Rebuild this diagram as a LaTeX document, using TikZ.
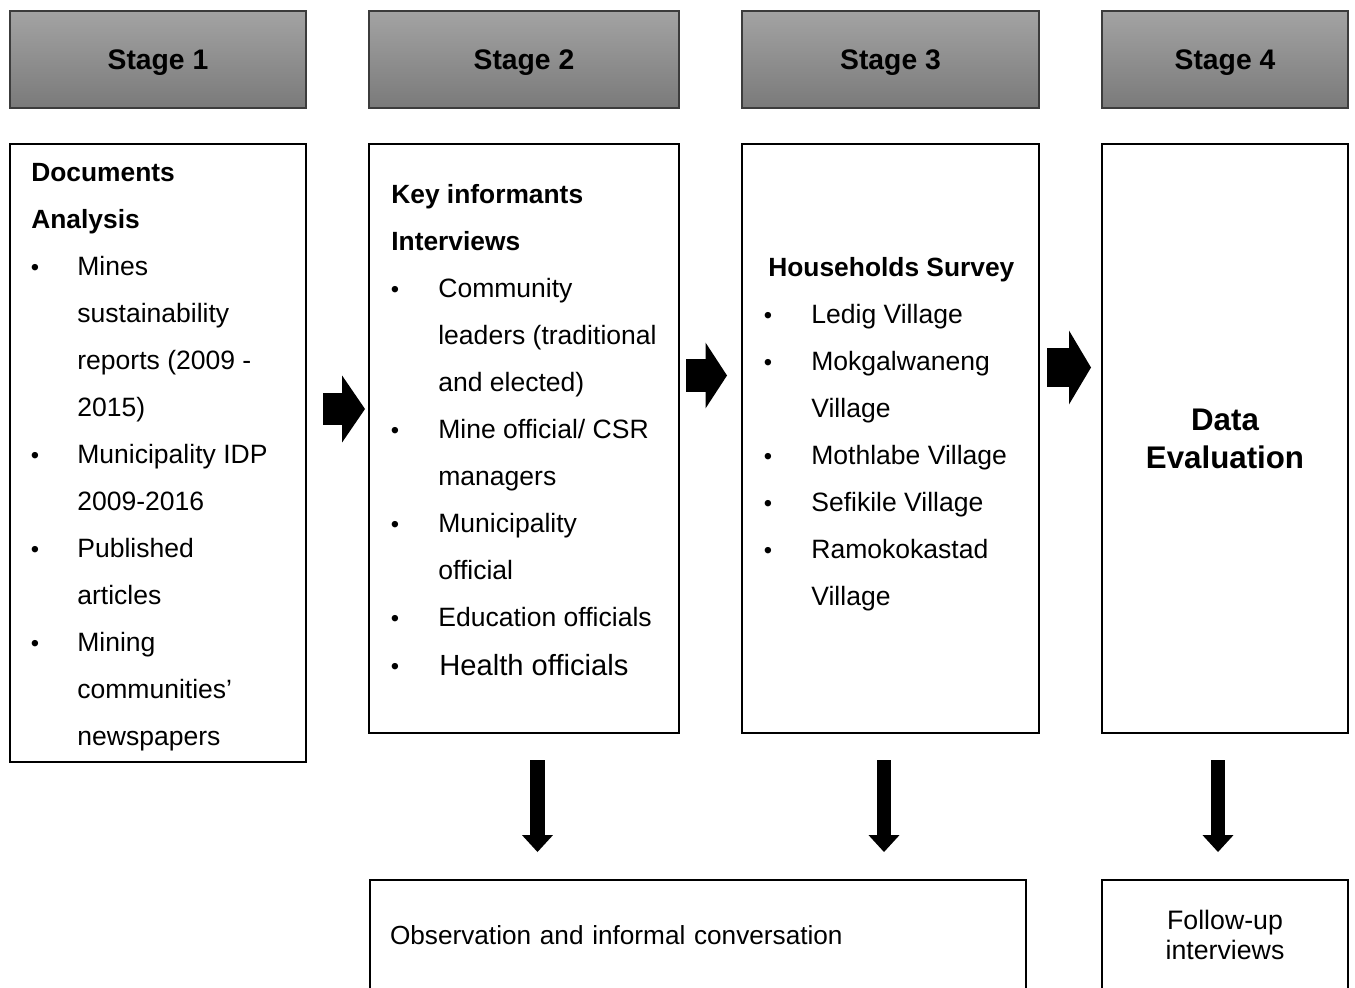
\documentclass[tikz,border=0pt]{standalone}
\usepackage{fontspec}
\setmainfont{Liberation Sans}
\usetikzlibrary{arrows.meta}
\definecolor{hdtop}{RGB}{163,163,163}
\definecolor{hdbot}{RGB}{122,122,122}
\definecolor{hdline}{RGB}{60,60,60}
\tikzset{
  stagehdr/.style={rectangle, draw=hdline, line width=1.1pt, top color=hdtop, bottom color=hdbot,
    minimum height=1.94cm, inner sep=0pt, text depth=0pt, font=\fontsize{16.1}{19}\selectfont\bfseries},
  contentbox/.style={rectangle, draw=black, line width=1.1pt, fill=white, inner sep=0pt},
  txt/.style={anchor=base west, inner sep=0pt, font=\fontsize{15.1}{18}\selectfont},
  hd/.style={anchor=base west, inner sep=0pt, font=\fontsize{15}{18}\selectfont\bfseries},
  bul/.style={anchor=center, inner sep=0pt, yshift=-1.7pt, font=\fontsize{13.5}{16}\selectfont},
  rarrow/.style={line width=#1, draw=black},
  downarrow/.style={line width=8.5pt, draw=black, -{Triangle[width=17.6pt,length=9.6pt,line width=0pt]}}
}
\begin{document}
\begin{tikzpicture}[x=0.02cm,y=-0.02cm]
\useasboundingbox (0,0) rectangle (1355,987);
\clip (0,0) rectangle (1355,987);
\fill[white] (0,0) rectangle (1355,987);

% Stage headers
\node[stagehdr, minimum width=5.92cm] (s1) at (158,59.5) {Stage 1};
\node[stagehdr, minimum width=6.2cm] (s2) at (524,59.5) {Stage 2};
\node[stagehdr, minimum width=5.94cm] (s3) at (890.5,59.5) {Stage 3};
\node[stagehdr, minimum width=4.92cm] (s4) at (1225,59.5) {Stage 4};

% Content boxes
\node[contentbox, minimum width=5.92cm, minimum height=12.36cm] (b1) at (158,453) {};
\node[contentbox, minimum width=6.2cm, minimum height=11.78cm] (b2) at (524,438.5) {};
\node[contentbox, minimum width=5.94cm, minimum height=11.78cm] (b3) at (890.5,438.5) {};
\node[contentbox, minimum width=4.92cm, minimum height=11.78cm, align=center,
  font=\fontsize{17.8}{21.5}\selectfont\bfseries] (b4) at (1225,438.5) {Data\\Evaluation};

% Box 1 text
\node[hd] (b1h1) at (31,181) {Documents};
\node[hd] (b1h2) at (31,228) {Analysis};
\node[bul] (b1u1) at (35,267) {•};
\node[txt] (b1t1) at (77,275) {Mines};
\node[txt] (b1t2) at (77,322) {sustainability};
\node[txt] (b1t3) at (77,369) {reports (2009 -};
\node[txt] (b1t4) at (77,416) {2015)};
\node[bul] (b1u2) at (35,455) {•};
\node[txt] (b1t5) at (77,463) {Municipality IDP};
\node[txt] (b1t6) at (77,510) {2009-2016};
\node[bul] (b1u3) at (35,549) {•};
\node[txt] (b1t7) at (77,557) {Published};
\node[txt] (b1t8) at (77,604) {articles};
\node[bul] (b1u4) at (35,643) {•};
\node[txt] (b1t9) at (77,651) {Mining};
\node[txt] (b1t10) at (77,698) {communities’};
\node[txt] (b1t11) at (77,745) {newspapers};

% Box 2 text
\node[hd] (b2h1) at (391,203) {Key informants};
\node[hd] (b2h2) at (391,250) {Interviews};
\node[bul] (b2u1) at (395,289) {•};
\node[txt] (b2t1) at (438,297) {Community};
\node[txt] (b2t2) at (438,344) {leaders (traditional};
\node[txt] (b2t3) at (438,391) {and elected)};
\node[bul] (b2u2) at (395,430) {•};
\node[txt] (b2t4) at (438,438) {Mine official/ CSR};
\node[txt] (b2t5) at (438,485) {managers};
\node[bul] (b2u3) at (395,524) {•};
\node[txt] (b2t6) at (438,532) {Municipality};
\node[txt] (b2t7) at (438,579) {official};
\node[bul] (b2u4) at (395,618) {•};
\node[txt] (b2t8) at (438,626) {Education officials};
\node[bul] (b2u5) at (395,666) {•};
\node[txt, font=\fontsize{16.6}{19}\selectfont] (b2t9) at (439,675) {Health officials};

% Box 3 text
\node[hd] (b3h1) at (768,276) {Households Survey};
\node[bul] (b3u1) at (768,315) {•};
\node[txt] (b3t1) at (811,323) {Ledig Village};
\node[bul] (b3u2) at (768,362) {•};
\node[txt] (b3t2) at (811,370) {Mokgalwaneng};
\node[txt] (b3t3) at (811,417) {Village};
\node[bul] (b3u3) at (768,456) {•};
\node[txt] (b3t4) at (811,464) {Mothlabe Village};
\node[bul] (b3u4) at (768,503) {•};
\node[txt] (b3t5) at (811,511) {Sefikile Village};
\node[bul] (b3u5) at (768,550) {•};
\node[txt] (b3t6) at (811,558) {Ramokokastad};
\node[txt] (b3t7) at (811,605) {Village};

% Bottom boxes
\node[contentbox, minimum width=13.12cm, minimum height=2.2cm, text width=12.32cm,
  inner xsep=0.4cm, align=left, font=\fontsize{14.9}{17}\selectfont] (obs) at (698,935)
  {Observation and informal conversation};
\node[contentbox, minimum width=4.92cm, minimum height=2.2cm, align=center,
  font=\fontsize{15.2}{17}\selectfont] (fu) at (1225,935) {Follow-up\\interviews};

% Right block arrows
\coordinate (r1s) at (323,409);   \coordinate (r1e) at (365,409);
\coordinate (r2s) at (686,375.5); \coordinate (r2e) at (727,375.5);
\coordinate (r3s) at (1047,367.5);\coordinate (r3e) at (1091,367.5);
\draw[rarrow=18.1pt, -{Triangle[width=38pt,length=13pt,line width=0pt]}] (r1s) -- (r1e);
\draw[rarrow=18.7pt, -{Triangle[width=37.4pt,length=12.2pt,line width=0pt]}] (r2s) -- (r2e);
\draw[rarrow=22.1pt, -{Triangle[width=42pt,length=12.5pt,line width=0pt]}] (r3s) -- (r3e);

% Down arrows
\coordinate (d1s) at (537.5,760); \coordinate (d1e) at (537.5,852);
\coordinate (d2s) at (884,760);   \coordinate (d2e) at (884,852);
\coordinate (d3s) at (1218,760);  \coordinate (d3e) at (1218,852);
\draw[downarrow] (d1s) -- (d1e);
\draw[downarrow] (d2s) -- (d2e);
\draw[downarrow] (d3s) -- (d3e);
\end{tikzpicture}
\end{document}
